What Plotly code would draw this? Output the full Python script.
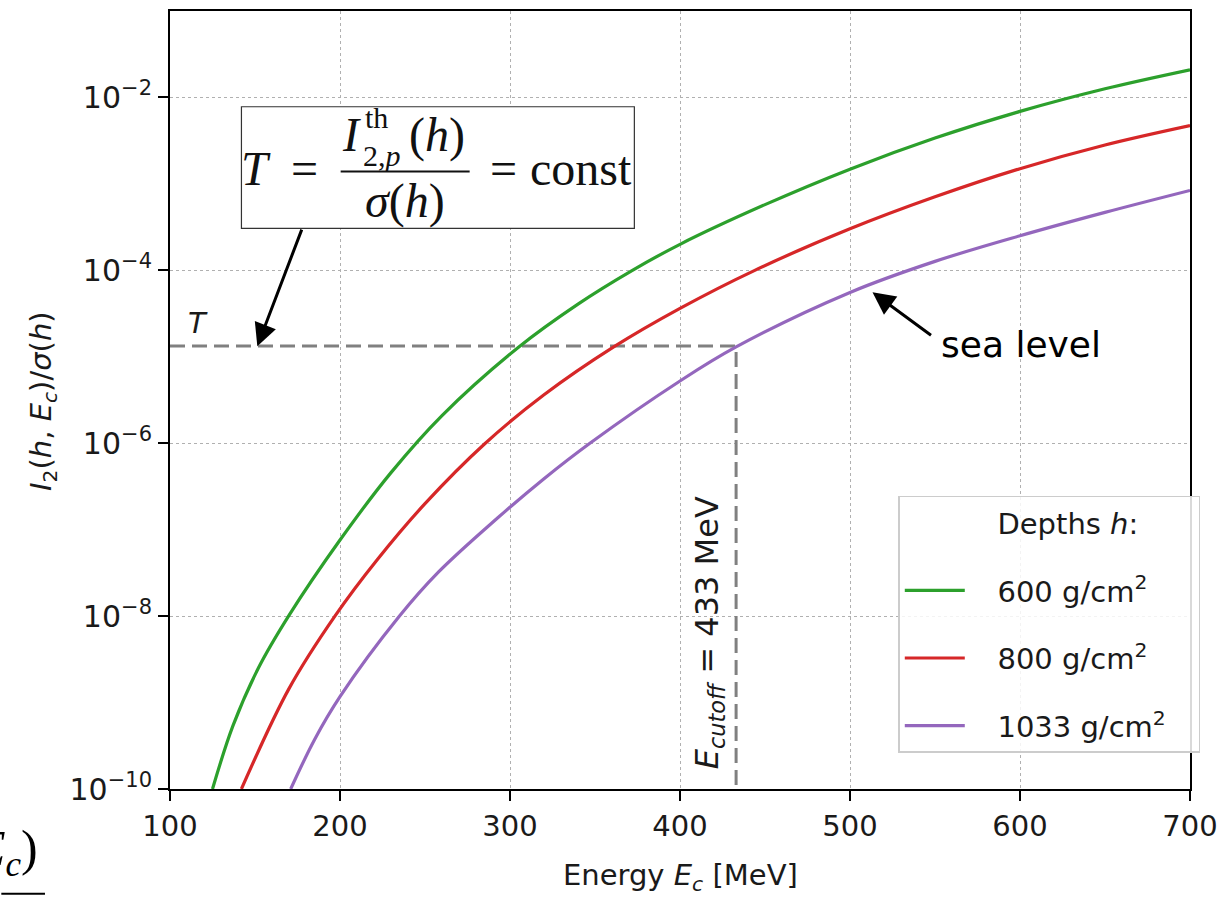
import plotly.graph_objects as go

# ---------------- data ----------------
E_600 = [125, 137, 152, 170, 200, 230, 260, 305, 340, 372, 400, 450, 500, 550, 600, 650, 700]
I_600 = [1.0e-10, 5.37e-10, 2.51e-9, 1.02e-8, 7.59e-8, 4.57e-7, 2.09e-6, 1.29e-5, 4.07e-5,
         1.0e-4, 2.0e-4, 5.75e-4, 1.48e-3, 3.39e-3, 6.9e-3, 1.26e-2, 2.09e-2]

E_800 = [142, 170, 197, 222, 250, 285, 320, 361, 400, 444, 500, 550, 600, 650, 700]
I_800 = [1.0e-10, 1.45e-9, 1.0e-8, 4.52e-8, 2.0e-7, 9.8e-7, 3.63e-6, 1.30e-5, 3.63e-5,
         1.0e-4, 3.02e-4, 7.08e-4, 1.50e-3, 2.82e-3, 4.73e-3]

E_1033 = [171, 185, 200, 235, 258, 293, 320, 347, 400, 433, 500, 550, 600, 650, 700]
I_1033 = [1.0e-10, 3.72e-10, 1.17e-9, 1.0e-8, 3.24e-8, 1.38e-7, 3.89e-7, 1.0e-6, 5.25e-6,
          1.30e-5, 5.55e-5, 1.27e-4, 2.51e-4, 4.68e-4, 8.4e-4]

series_names = ["600 g/cm<sup>2</sup>", "800 g/cm<sup>2</sup>", "1033 g/cm<sup>2</sup>"]
series_colors = ["#2ca02c", "#d62728", "#9467bd"]

T_value = 1.33e-5
E_cutoff = 433
E_min, E_max = 100, 700
y_bottom = 1e-10

x_tick_vals = [100, 200, 300, 400, 500, 600, 700]
y_tick_vals = [1e-10, 1e-8, 1e-6, 1e-4, 1e-2]
y_tick_text = ["10<sup>\u221210</sup>", "10<sup>\u22128</sup>", "10<sup>\u22126</sup>",
               "10<sup>\u22124</sup>", "10<sup>\u22122</sup>"]

# ---------------- layout helpers ----------------
W, H = 1227, 898
ML, MR, MT, MB = 170, 29, 9, 109
PW, PH = W - ML - MR, H - MT - MB
FONT = "DejaVu Sans"
SERIF = "Liberation Serif"
TXT = "#1a1a1a"
NB = "\u00a0"


def px(x, y):
    return (x - ML) / PW, (MT + PH - y) / PH


fig = go.Figure()

# threshold / cutoff guide lines
fig.add_trace(go.Scatter(
    x=[E_min, E_cutoff, E_cutoff], y=[T_value, T_value, y_bottom],
    mode="lines", line=dict(color="#808080", width=3, dash="15px,7px"),
    showlegend=False, hoverinfo="skip"))

# legend header (dummy entry)
fig.add_trace(go.Scatter(
    x=[None], y=[None], mode="lines", name=NB * 3 + "Depths <i>h</i>:",
    line=dict(color="rgba(0,0,0,0)", width=0), legendgroup="g0"))

for i, (ex, iy) in enumerate([(E_600, I_600), (E_800, I_800), (E_1033, I_1033)]):
    fig.add_trace(go.Scatter(
        x=ex, y=iy, mode="lines", name=NB * 3 + series_names[i] + NB * 3,
        line=dict(color=series_colors[i], width=3.2, shape="spline", smoothing=1.0),
        legendgroup=f"g{i+1}"))

annotations = []
shapes = []

# "T" label
x, y = px(198, 322)
annotations.append(dict(x=x, y=y, xref="paper", yref="paper", text="<i>T</i>",
                        showarrow=False, font=dict(family=FONT, size=29, color=TXT),
                        xanchor="center", yanchor="middle"))

# formula box
x0, y0 = px(242, 227)
x1, y1 = px(638, 105)
shapes.append(dict(type="rect", xref="paper", yref="paper", x0=x0, y0=y0, x1=x1, y1=y1,
                   line=dict(color="#333333", width=1.2), fillcolor="white", layer="above"))
# fraction bar
fx0, fy = px(342, 170)
fx1, _ = px(472, 170)
shapes.append(dict(type="line", xref="paper", yref="paper", x0=fx0, y0=fy, x1=fx1, y1=fy,
                   line=dict(color="#111111", width=2), layer="above"))


def ftext(xp, yp, text, size, anchor="center"):
    x, y = px(xp, yp)
    annotations.append(dict(x=x, y=y, xref="paper", yref="paper", text=text,
                            showarrow=False, xanchor=anchor, yanchor="middle",
                            font=dict(family=SERIF, size=size, color="#111111")))


ftext(257, 167, "<i>T</i>", 48)
ftext(306, 167, "=", 48)
ftext(353, 133, "<i>I</i>", 48)
ftext(365, 116, "th", 30, "left")
ftext(363, 154, "2,<i>p</i>", 30, "left")
ftext(439, 133, "(<i>h</i>)", 48)
ftext(407, 199, "<i>\u03c3</i>(<i>h</i>)", 48)
ftext(506, 167, "=", 48)
ftext(584, 167, "const", 48)

# arrow from box to T
x, y = px(258, 345)
annotations.append(dict(x=x, y=y, xref="paper", yref="paper", text="", showarrow=True,
                        ax=45, ay=-118, axref="pixel", ayref="pixel",
                        arrowhead=2, arrowsize=1.5, arrowwidth=3, arrowcolor="black"))

# sea level arrow + text
x, y = px(878, 291)
annotations.append(dict(x=x, y=y, xref="paper", yref="paper", text="", showarrow=True,
                        ax=60, ay=44, axref="pixel", ayref="pixel",
                        arrowhead=2, arrowsize=1.5, arrowwidth=3, arrowcolor="black"))
x, y = px(945, 343)
annotations.append(dict(x=x, y=y, xref="paper", yref="paper", text="sea level",
                        showarrow=False, xanchor="left", yanchor="middle",
                        font=dict(family=FONT, size=36, color="black")))

# E_cutoff vertical label
x, y = px(714, 632)
annotations.append(dict(x=x, y=y, xref="paper", yref="paper",
                        text=f"<i>E</i><sub><i>cutoff</i></sub> = {E_cutoff} MeV",
                        showarrow=False, textangle=-90, xanchor="center", yanchor="middle",
                        font=dict(family=FONT, size=32, color=TXT)))

# axis titles
x, y = px(685, 877)
annotations.append(dict(x=x, y=y, xref="paper", yref="paper",
                        text="Energy <i>E</i><sub><i>c</i></sub> [MeV]",
                        showarrow=False, xanchor="center", yanchor="middle",
                        font=dict(family=FONT, size=29, color=TXT)))
x, y = px(42, 400)
annotations.append(dict(x=x, y=y, xref="paper", yref="paper",
                        text="<i>I</i><sub>2</sub>(<i>h</i>, <i>E</i><sub><i>c</i></sub>)/<i>\u03c3</i>(<i>h</i>)",
                        showarrow=False, textangle=-90, xanchor="center", yanchor="middle",
                        font=dict(family=FONT, size=29, color=TXT)))

# cropped fragment from surrounding page
x, y = px(39, 852)
annotations.append(dict(x=x, y=y, xref="paper", yref="paper",
                        text="<i>E</i><sub><i>c</i></sub>)",
                        showarrow=False, xanchor="right", yanchor="middle",
                        font=dict(family=SERIF, size=50, color="black")))
ux0, uy = px(0, 894)
ux1, _ = px(44, 894)
shapes.append(dict(type="line", xref="paper", yref="paper", x0=ux0, y0=uy, x1=ux1, y1=uy,
                   line=dict(color="black", width=2)))

lx, ly = px(904, 495)

fig.update_layout(
    width=W, height=H,
    margin=dict(l=ML, r=MR, t=MT, b=MB),
    paper_bgcolor="white", plot_bgcolor="white",
    font=dict(family=FONT, size=29, color=TXT),
    showlegend=True,
    legend=dict(x=lx, y=ly, xanchor="left", yanchor="top",
                bgcolor="rgba(255,255,255,0.85)", bordercolor="#cccccc", borderwidth=1.5,
                font=dict(family=FONT, size=29, color=TXT),
                tracegroupgap=27, itemwidth=60, traceorder="grouped"),
    xaxis=dict(range=[E_min, E_max], tickvals=x_tick_vals, ticks="outside", ticklen=10,
               tickwidth=2, tickcolor="black", showline=True, linecolor="black", linewidth=2,
               mirror=True, showgrid=True, gridcolor="#b0b0b0", gridwidth=1, griddash="dot",
               zeroline=False, tickfont=dict(family=FONT, size=29, color=TXT)),
    yaxis=dict(type="log", range=[-10, -1], tickvals=y_tick_vals, ticktext=y_tick_text,
               ticks="outside", ticklen=10, tickwidth=2, tickcolor="black", showline=True,
               linecolor="black", linewidth=2, mirror=True, showgrid=True,
               gridcolor="#b0b0b0", gridwidth=1, griddash="dot", zeroline=False,
               tickfont=dict(family=FONT, size=30, color=TXT)),
    annotations=annotations,
    shapes=shapes,
)

fig.write_html("out.html")
